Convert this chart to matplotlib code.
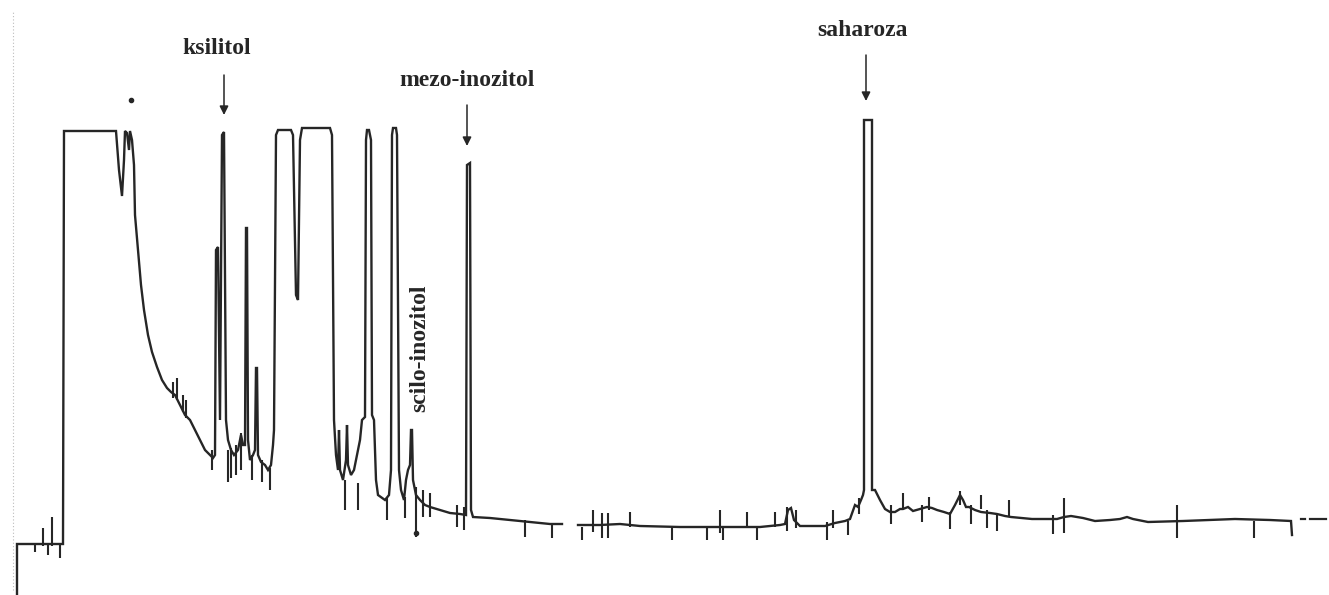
import numpy as np
import matplotlib
matplotlib.use("Agg")
from matplotlib import pyplot as plt

# chromatogram trace (time in arbitrary units, detector response in arbitrary units)
time = [17, 17, 63, 64, 116, 119, 122, 124, 125, 127, 129, 130, 132, 134,
        135, 138, 141, 144, 148, 152, 157, 162, 167, 171, 175, 180, 185, 190, 195, 200, 205, 210, 213,
        215, 216, 218, 220, 222, 224, 226, 228, 231, 234, 238, 241, 243, 245, 246, 247, 248, 250, 253,
        255, 256, 257, 258, 261, 265, 268, 271, 273, 274,
        276, 278, 291, 293, 296, 298, 300, 302, 330, 332,
        334, 336, 338, 339, 340, 343, 346, 347, 348, 351, 354, 357, 360, 362, 365,
        366, 367, 369, 371, 372, 374, 376, 378, 385, 389, 391,
        392, 393, 396, 397, 399, 401, 404, 406, 408, 410, 411, 412, 413, 416, 420, 425, 430, 440, 450, 460, 466,
        467, 470, 471, 473, 490, 510, 530, 550, 562,
        np.nan,
        578, 600, 620, 640, 680, 720, 760, 780, 785, 788, 791, 794, 800, 825, 835, 845, 850, 855, 858, 861, 863,
        864, 864, 872, 872, 875, 880, 885, 890, 895, 900, 903, 908, 913, 920, 927, 932, 937, 944, 950, 955,
        960, 963, 966, 969, 975, 981, 990, 997, 1005, 1011, 1032, 1057, 1064, 1071, 1083, 1095, 1110, 1120,
        1127, 1133, 1148, 1183, 1210, 1235, 1270, 1291, 1292]
response = [0, 51, 51, 464, 464, 425, 399, 435, 464, 462, 445, 464, 455, 430,
            380, 345, 310, 285, 260, 243, 228, 215, 207, 203, 200, 190, 180, 175, 165, 155, 145, 140, 137,
            140, 345, 348, 175, 460, 463, 175, 155, 145, 140, 145, 160, 150, 150, 367, 367, 155, 135, 140,
            145, 227, 227, 140, 133, 130, 125, 130, 150, 165,
            460, 465, 465, 460, 300, 295, 455, 467, 467, 460,
            175, 140, 125, 165, 125, 115, 135, 170, 130, 120, 125, 140, 155, 175, 178,
            455, 465, 465, 455, 180, 175, 115, 100, 95, 100, 125,
            460, 467, 467, 460, 125, 105, 95, 115, 125, 130, 165, 165, 115, 100, 95, 90, 88, 85, 82, 81, 80,
            430, 432, 85, 78, 77, 75, 73, 71, 71,
            np.nan,
            70, 70, 71, 69, 68, 68, 68, 70, 71, 85, 87, 75, 69, 69, 72, 74, 76, 90, 88, 95, 100,
            105, 475, 475, 105, 105, 95, 86, 83, 83, 86, 86, 88, 84, 86, 88, 87, 85, 83, 81, 90,
            100, 95, 88, 88, 85, 83, 82, 81, 79, 78, 76, 76, 78, 79, 77, 74, 75, 76,
            78, 76, 73, 74, 75, 76, 75, 74, 60]

# dashed pen trace at the end of the run
tail_time = [1301, 1305, np.nan, 1310, 1326]
tail_response = [76, 76, np.nan, 76, 76]

# integrator event marks: time, low, high
mark_time = [35, 43, 48, 52, 60, 173, 177, 183, 186, 212, 228, 231, 236, 241, 252, 262, 270,
             345, 358, 387, 405, 416, 423, 430, 457, 464, 525, 552, 582, 593, 602, 608, 630,
             672, 707, 720, 723, 747, 757, 775, 787, 796, 827, 833, 848, 859, 891, 903, 922,
             929, 950, 960, 971, 981, 987, 997, 1009, 1053, 1064, 1177, 1254]
mark_low = [43, 49, 40, 49, 37, 197, 195, 183, 177, 125, 113, 117, 120, 125, 115, 113, 105,
            85, 85, 75, 77, 58, 78, 78, 68, 65, 58, 57, 55, 63, 57, 57, 68,
            55, 55, 62, 55, 68, 55, 68, 64, 67, 55, 67, 60, 81, 71, 86, 73,
            85, 66, 90, 71, 86, 67, 64, 79, 61, 62, 57, 57]
mark_high = [51, 67, 51, 78, 51, 213, 217, 200, 195, 145, 145, 147, 150, 162, 140, 135, 127,
             115, 112, 98, 98, 108, 105, 102, 90, 88, 75, 72, 68, 85, 82, 82, 83,
             68, 68, 85, 68, 83, 68, 83, 88, 85, 73, 85, 74, 97, 90, 102, 90,
             98, 83, 104, 90, 100, 85, 81, 95, 80, 97, 90, 74]

peak_names = ["ksilitol", "mezo-inozitol", "saharoza", "scilo-inozitol"]

ink = "#262626"
fig = plt.figure(figsize=(13.29, 5.95), dpi=100)
ax = fig.add_axes([0, 0, 1, 1])
ax.set_xlim(0, 1329)
ax.set_ylim(0, 595)
ax.axis("off")

# faint dotted edge of the recorder paper
ax.plot([13, 13], [5, 585], color="#bbbbbb", lw=0.8, ls=(0, (1, 2)))

ax.plot(time, response, color=ink, lw=1.7, solid_joinstyle="miter")
ax.plot(tail_time, tail_response, color=ink, lw=1.6)
ax.vlines(mark_time, mark_low, mark_high, color=ink, lw=1.5)
ax.plot([416, 131], [62, 495], ls="none", marker="o", ms=3, color=ink)

font = dict(family="Liberation Serif", fontweight="bold", fontsize=17, color=ink)
arrow = dict(arrowstyle="-|>", color=ink, lw=1.1, mutation_scale=13, shrinkA=0, shrinkB=0)

ax.text(217, 546, peak_names[0], ha="center", va="center", **font)
ax.annotate("", xy=(224, 480), xytext=(224, 520), arrowprops=arrow)
ax.text(467, 515, peak_names[1], ha="center", va="center", **font)
ax.annotate("", xy=(467, 449), xytext=(467, 490), arrowprops=arrow)
ax.text(862, 565, peak_names[2], ha="center", va="center", **font)
ax.annotate("", xy=(866, 494), xytext=(866, 540), arrowprops=arrow)
ax.text(420, 247, peak_names[3], rotation=90, ha="center", va="center", **font)

fig.savefig("out.png", dpi=100)
